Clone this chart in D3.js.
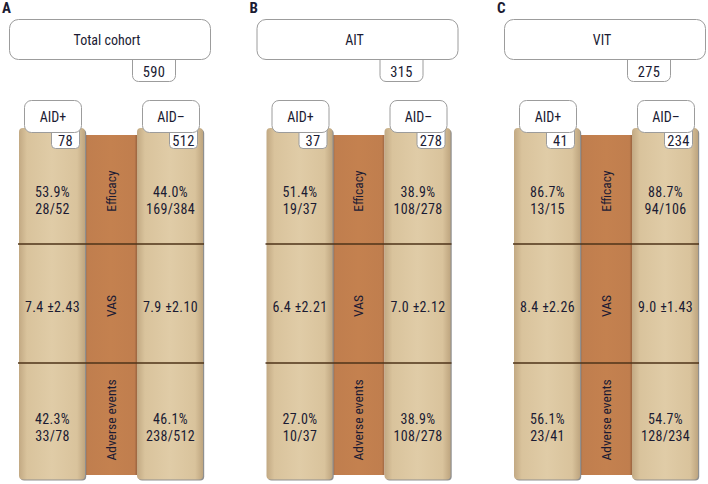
<!DOCTYPE html>
<html><head><meta charset="utf-8">
<script src="https://cdn.jsdelivr.net/npm/d3@7"></script>
<style>
html,body{margin:0;padding:0;background:#fff;}
svg{display:block;}
text{font-family:"Liberation Sans Narrow","Arial Narrow","Roboto Condensed",sans-serif;fill:#1b1b33;}
</style></head>
<body>
<svg id="chart" width="708" height="484"></svg>
<script>
// ---- data ----
const panels = ["A", "B", "C"];
const cohorts = ["Total cohort", "AIT", "VIT"];
const cohortN = [590, 315, 275];
const groups = ["AID+", "AID–"];
const groupN = [[78, 512], [37, 278], [41, 234]];
const rowLabels = ["Efficacy", "VAS", "Adverse events"];
const efficacyPct = [[53.9, 44.0], [51.4, 38.9], [86.7, 88.7]];
const efficacyFrac = [["28/52", "169/384"], ["19/37", "108/278"], ["13/15", "94/106"]];
const vasMean = [[7.4, 7.9], [6.4, 7.0], [8.4, 9.0]];
const vasSD = [[2.43, 2.10], [2.21, 2.12], [2.26, 1.43]];
const aePct = [[42.3, 46.1], [27.0, 38.9], [56.1, 54.7]];
const aeFrac = [["33/78", "238/512"], ["10/37", "108/278"], ["23/41", "128/234"]];

// ---- layout ----
const svg = d3.select("#chart");
const defs = svg.append("defs");
const gSide = defs.append("linearGradient").attr("id", "side").attr("x1", 0).attr("x2", 1);
[[0, "#c2a983"], [0.12, "#d9c39c"], [0.5, "#e0cca7"], [0.88, "#d9c39c"], [1, "#bea57f"]]
  .forEach(([o, c]) => gSide.append("stop").attr("offset", o).attr("stop-color", c));
const gMid = defs.append("linearGradient").attr("id", "mid").attr("x1", 0).attr("x2", 1);
[[0, "#9a6440"], [0.05, "#c07e4e"], [0.5, "#c4814f"], [0.95, "#c07e4e"], [1, "#9a6440"]]
  .forEach(([o, c]) => gMid.append("stop").attr("offset", o).attr("stop-color", c));

const px = d3.scaleLinear().domain([0, 2]).range([0, 495]);          // panel offset
const colX = d3.scaleOrdinal().domain(groups).range([19, 137]);     // side column left
const colW = 66;
const midX = 85, midW = 52;
const rowY = d3.scaleOrdinal().domain(rowLabels).range([135, 244, 363]);
const rowEnd = 475;
const valueY = d3.scaleOrdinal().domain(rowLabels).range([200, 307, 427]);
const labelY = d3.scaleOrdinal().domain(rowLabels).range([191, 306, 420]);

const fmt1 = d3.format(".1f"), fmt2 = d3.format(".2f");
const VS = 14, LS = 0.35;

panels.forEach((p, i) => {
  const g = svg.append("g").attr("transform", `translate(${px(i)},0)`);
  g.append("text").attr("x", 2).attr("y", 13).attr("font-size", 15).attr("font-weight", "bold").text(p);

  // cohort N box (under title box)
  g.append("rect").attr("x", 132.5).attr("y", 50.5).attr("width", 43).attr("height", 31).attr("rx", 6)
    .attr("fill", "#fff").attr("stroke", "#9c9c9c");
  g.append("text").attr("x", 154).attr("y", 77).attr("text-anchor", "middle").attr("font-size", 14.5)
    .attr("letter-spacing", LS).text(cohortN[i]);
  g.append("rect").attr("x", 9.5).attr("y", 19.5).attr("width", 201).attr("height", 40).attr("rx", 9)
    .attr("fill", "#fff").attr("stroke", "#9c9c9c");
  g.append("text").attr("x", 107).attr("y", 45).attr("text-anchor", "middle").attr("font-size", 14).text(cohorts[i]);

  // middle column
  g.append("rect").attr("x", midX).attr("y", rowY(rowLabels[0])).attr("width", midW)
    .attr("height", rowEnd - rowY(rowLabels[0])).attr("fill", "url(#mid)");

  groups.forEach((grp, j) => {
    const x0 = colX(grp);
    g.append("rect").attr("x", x0 + 1.2).attr("y", 129.5).attr("width", colW).attr("height", 351)
      .attr("rx", 4).attr("fill", "#8f8f8f");
    g.append("rect").attr("x", x0).attr("y", 128).attr("width", colW).attr("height", 351.5)
      .attr("rx", 4).attr("fill", "url(#side)");
  });

  // row separator lines
  rowLabels.slice(1).forEach(r => {
    g.append("line").attr("x1", 18).attr("x2", 204).attr("y1", rowY(r)).attr("y2", rowY(r))
      .attr("stroke", "#4e3318").attr("stroke-width", 1.5);
  });

  // middle labels
  rowLabels.forEach(r => {
    g.append("text").attr("transform", `translate(${midX + midW / 2 + 4.5},${labelY(r)}) rotate(-90)`)
      .attr("text-anchor", "middle").attr("font-size", 13.5).text(r);
  });

  groups.forEach((grp, j) => {
    const x0 = colX(grp), cx = x0 + colW / 2 + 0.5;
    // N box
    g.append("rect").attr("x", x0 + colW - 33.5).attr("y", 124.5).attr("width", 28).attr("height", 24).attr("rx", 4)
      .attr("fill", "#fff").attr("stroke", "#9c9c9c");
    g.append("text").attr("x", x0 + colW - 19.5).attr("y", 146).attr("text-anchor", "middle").attr("font-size", 14.5)
      .attr("letter-spacing", LS).text(groupN[i][j]);
    // header box
    g.append("rect").attr("x", x0 + 5.5).attr("y", 100.5).attr("width", 57).attr("height", 32).attr("rx", 7)
      .attr("fill", "#fff").attr("stroke", "#9c9c9c");
    g.append("text").attr("x", x0 + 34).attr("y", 122).attr("text-anchor", "middle").attr("font-size", 14).text(grp);

    // values
    const eff = g.append("text").attr("text-anchor", "middle").attr("font-size", VS).attr("letter-spacing", LS);
    eff.append("tspan").attr("x", cx).attr("y", valueY("Efficacy") - 3).text(fmt1(efficacyPct[i][j]) + "%");
    eff.append("tspan").attr("x", cx).attr("y", valueY("Efficacy") + 14).text(efficacyFrac[i][j]);
    g.append("text").attr("x", cx).attr("y", valueY("VAS") + 5).attr("text-anchor", "middle").attr("font-size", VS)
      .attr("letter-spacing", LS).text(fmt1(vasMean[i][j]) + " ±" + fmt2(vasSD[i][j]));
    const ae = g.append("text").attr("text-anchor", "middle").attr("font-size", VS).attr("letter-spacing", LS);
    ae.append("tspan").attr("x", cx).attr("y", valueY("Adverse events") - 3).text(fmt1(aePct[i][j]) + "%");
    ae.append("tspan").attr("x", cx).attr("y", valueY("Adverse events") + 14).text(aeFrac[i][j]);
  });
});
</script>
</body></html>
